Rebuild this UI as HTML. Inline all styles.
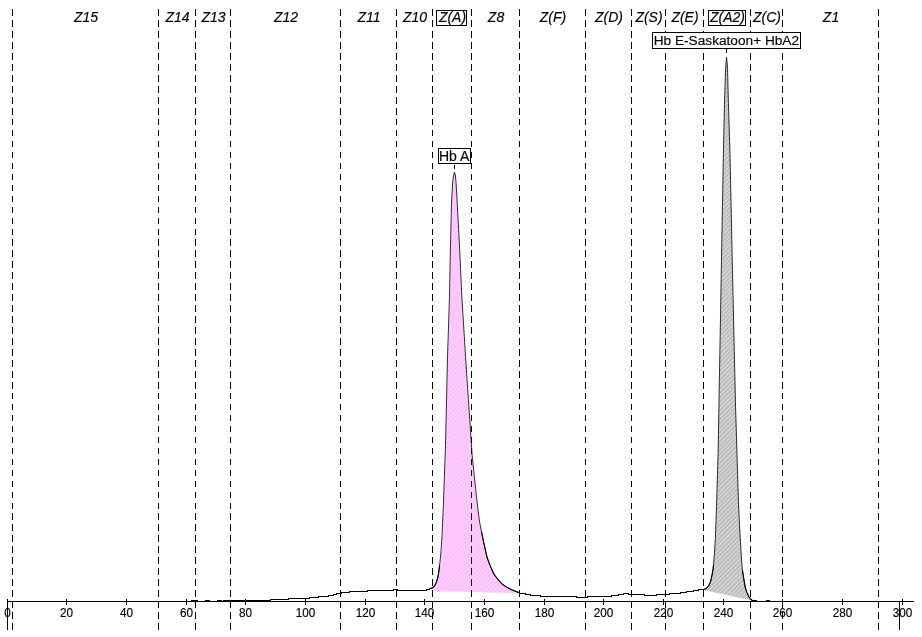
<!DOCTYPE html>
<html><head><meta charset="utf-8"><title>Electrophoresis</title>
<style>
html,body{margin:0;padding:0;background:#fff}
body{width:922px;height:637px;overflow:hidden}
svg{display:block}
text{font-family:"Liberation Sans",Arial,sans-serif;fill:#000;stroke:#000;stroke-width:.15px}
.z{font-style:italic;font-size:14px;text-anchor:middle}
.t{font-size:12.4px;text-anchor:middle}
.l{font-size:13.66px}
.c{shape-rendering:crispEdges}
</style></head><body>
<svg width="922" height="637" viewBox="0 0 922 637">
<rect width="922" height="637" fill="#fff"/>
<clipPath id="cp"><polygon points="431.5,588.5 433,587.6 434.9,585.25 436.3,582.4 437.5,578.7 438.4,574.4 439.1,569.7 439.6,565 440.5,557 441.2,548.6 441.8,540 442.5,525 443.4,505 445.5,445 447.5,357 449.4,300 450.4,250 451.5,203 452.8,180.7 453.7,175 454.5,172.3 455.3,175 455.9,180.7 456.9,196.4 457.5,209 459.5,246 461.8,296 464.6,341 465.6,358 470.8,435 472.1,455 476.3,495 478,510 479.6,522 481.5,531.8 483.5,541.5 485.5,550.5 487,557.3 489.7,564.6 492,570 494.4,574.9 497.8,579.3 502.2,584.15 506.6,587.1 511,589.5 515.4,591.2 519.5,592.8 519.5,593.2 431.5,590.9"/></clipPath>
<clipPath id="cg"><polygon points="703.5,589.5 705.1,589 706.7,588 708.6,586 710,583 711,580 712,575 713,570 713.5,565 714.3,555 715.3,540 716.5,507 718.2,450 719.1,395 720.5,317 722,230 723.5,147 724.6,100 725.5,70 726.5,57.3 727.5,67 728.3,100 729.9,150 731.5,225 733.5,317 735.5,405 738.45,502 739.5,525 740.4,540 741.2,555 742.4,570 743.7,578.3 745.25,587.7 746.85,592.4 749,597 750.6,599 752.3,600.5 751,600.3 703.5,589.9"/></clipPath>
<polygon points="431.5,588.5 433,587.6 434.9,585.25 436.3,582.4 437.5,578.7 438.4,574.4 439.1,569.7 439.6,565 440.5,557 441.2,548.6 441.8,540 442.5,525 443.4,505 445.5,445 447.5,357 449.4,300 450.4,250 451.5,203 452.8,180.7 453.7,175 454.5,172.3 455.3,175 455.9,180.7 456.9,196.4 457.5,209 459.5,246 461.8,296 464.6,341 465.6,358 470.8,435 472.1,455 476.3,495 478,510 479.6,522 481.5,531.8 483.5,541.5 485.5,550.5 487,557.3 489.7,564.6 492,570 494.4,574.9 497.8,579.3 502.2,584.15 506.6,587.1 511,589.5 515.4,591.2 519.5,592.8 519.5,593.2 431.5,590.9" fill="#ffbfff"/>
<path clip-path="url(#cp)" d="M430.0 172.7L431.7 171.0M430.0 177.1L436.1 171.0M430.0 181.5L440.5 171.0M430.0 185.8L444.8 171.0M430.0 190.2L449.2 171.0M430.0 194.6L453.6 171.0M430.0 199.0L458.0 171.0M430.0 203.4L462.4 171.0M430.0 207.8L466.8 171.0M430.0 212.1L471.1 171.0M430.0 216.5L475.5 171.0M430.0 220.9L479.9 171.0M430.0 225.3L484.3 171.0M430.0 229.7L488.7 171.0M430.0 234.0L493.0 171.0M430.0 238.4L497.4 171.0M430.0 242.8L501.8 171.0M430.0 247.2L506.2 171.0M430.0 251.6L510.6 171.0M430.0 256.0L515.0 171.0M430.0 260.3L519.3 171.0M430.0 264.7L521.0 173.7M430.0 269.1L521.0 178.1M430.0 273.5L521.0 182.5M430.0 277.9L521.0 186.9M430.0 282.3L521.0 191.3M430.0 286.6L521.0 195.6M430.0 291.0L521.0 200.0M430.0 295.4L521.0 204.4M430.0 299.8L521.0 208.8M430.0 304.2L521.0 213.2M430.0 308.6L521.0 217.6M430.0 312.9L521.0 221.9M430.0 317.3L521.0 226.3M430.0 321.7L521.0 230.7M430.0 326.1L521.0 235.1M430.0 330.5L521.0 239.5M430.0 334.9L521.0 243.9M430.0 339.2L521.0 248.2M430.0 343.6L521.0 252.6M430.0 348.0L521.0 257.0M430.0 352.4L521.0 261.4M430.0 356.8L521.0 265.8M430.0 361.2L521.0 270.2M430.0 365.5L521.0 274.5M430.0 369.9L521.0 278.9M430.0 374.3L521.0 283.3M430.0 378.7L521.0 287.7M430.0 383.1L521.0 292.1M430.0 387.5L521.0 296.5M430.0 391.8L521.0 300.8M430.0 396.2L521.0 305.2M430.0 400.6L521.0 309.6M430.0 405.0L521.0 314.0M430.0 409.4L521.0 318.4M430.0 413.8L521.0 322.8M430.0 418.1L521.0 327.1M430.0 422.5L521.0 331.5M430.0 426.9L521.0 335.9M430.0 431.3L521.0 340.3M430.0 435.7L521.0 344.7M430.0 440.0L521.0 349.0M430.0 444.4L521.0 353.4M430.0 448.8L521.0 357.8M430.0 453.2L521.0 362.2M430.0 457.6L521.0 366.6M430.0 462.0L521.0 371.0M430.0 466.3L521.0 375.3M430.0 470.7L521.0 379.7M430.0 475.1L521.0 384.1M430.0 479.5L521.0 388.5M430.0 483.9L521.0 392.9M430.0 488.3L521.0 397.3M430.0 492.6L521.0 401.6M430.0 497.0L521.0 406.0M430.0 501.4L521.0 410.4M430.0 505.8L521.0 414.8M430.0 510.2L521.0 419.2M430.0 514.6L521.0 423.6M430.0 518.9L521.0 427.9M430.0 523.3L521.0 432.3M430.0 527.7L521.0 436.7M430.0 532.1L521.0 441.1M430.0 536.5L521.0 445.5M430.0 540.9L521.0 449.9M430.0 545.2L521.0 454.2M430.0 549.6L521.0 458.6M430.0 554.0L521.0 463.0M430.0 558.4L521.0 467.4M430.0 562.8L521.0 471.8M430.0 567.2L521.0 476.2M430.0 571.5L521.0 480.5M430.0 575.9L521.0 484.9M430.0 580.3L521.0 489.3M430.0 584.7L521.0 493.7M430.0 589.1L521.0 498.1M430.0 593.5L521.0 502.5M433.8 594.0L521.0 506.8M438.2 594.0L521.0 511.2M442.6 594.0L521.0 515.6M447.0 594.0L521.0 520.0M451.4 594.0L521.0 524.4M455.8 594.0L521.0 528.8M460.1 594.0L521.0 533.1M464.5 594.0L521.0 537.5M468.9 594.0L521.0 541.9M473.3 594.0L521.0 546.3M477.7 594.0L521.0 550.7M482.0 594.0L521.0 555.0M486.4 594.0L521.0 559.4M490.8 594.0L521.0 563.8M495.2 594.0L521.0 568.2M499.6 594.0L521.0 572.6M504.0 594.0L521.0 577.0M508.3 594.0L521.0 581.3M512.7 594.0L521.0 585.7M517.1 594.0L521.0 590.1" stroke="#ffe2ff" stroke-width="1" fill="none"/>
<polygon points="703.5,589.5 705.1,589 706.7,588 708.6,586 710,583 711,580 712,575 713,570 713.5,565 714.3,555 715.3,540 716.5,507 718.2,450 719.1,395 720.5,317 722,230 723.5,147 724.6,100 725.5,70 726.5,57.3 727.5,67 728.3,100 729.9,150 731.5,225 733.5,317 735.5,405 738.45,502 739.5,525 740.4,540 741.2,555 742.4,570 743.7,578.3 745.25,587.7 746.85,592.4 749,597 750.6,599 752.3,600.5 751,600.3 703.5,589.9" fill="#c0c0c0"/>
<path clip-path="url(#cg)" d="M702.0 57.9L703.9 56.0M702.0 62.3L708.3 56.0M702.0 66.7L712.7 56.0M702.0 71.1L717.1 56.0M702.0 75.5L721.5 56.0M702.0 79.9L725.9 56.0M702.0 84.2L730.2 56.0M702.0 88.6L734.6 56.0M702.0 93.0L739.0 56.0M702.0 97.4L743.4 56.0M702.0 101.8L747.8 56.0M702.0 106.2L752.2 56.0M702.0 110.5L753.0 59.5M702.0 114.9L753.0 63.9M702.0 119.3L753.0 68.3M702.0 123.7L753.0 72.7M702.0 128.1L753.0 77.1M702.0 132.4L753.0 81.4M702.0 136.8L753.0 85.8M702.0 141.2L753.0 90.2M702.0 145.6L753.0 94.6M702.0 150.0L753.0 99.0M702.0 154.4L753.0 103.4M702.0 158.7L753.0 107.7M702.0 163.1L753.0 112.1M702.0 167.5L753.0 116.5M702.0 171.9L753.0 120.9M702.0 176.3L753.0 125.3M702.0 180.7L753.0 129.7M702.0 185.0L753.0 134.0M702.0 189.4L753.0 138.4M702.0 193.8L753.0 142.8M702.0 198.2L753.0 147.2M702.0 202.6L753.0 151.6M702.0 207.0L753.0 156.0M702.0 211.3L753.0 160.3M702.0 215.7L753.0 164.7M702.0 220.1L753.0 169.1M702.0 224.5L753.0 173.5M702.0 228.9L753.0 177.9M702.0 233.3L753.0 182.3M702.0 237.6L753.0 186.6M702.0 242.0L753.0 191.0M702.0 246.4L753.0 195.4M702.0 250.8L753.0 199.8M702.0 255.2L753.0 204.2M702.0 259.6L753.0 208.6M702.0 263.9L753.0 212.9M702.0 268.3L753.0 217.3M702.0 272.7L753.0 221.7M702.0 277.1L753.0 226.1M702.0 281.5L753.0 230.5M702.0 285.9L753.0 234.9M702.0 290.2L753.0 239.2M702.0 294.6L753.0 243.6M702.0 299.0L753.0 248.0M702.0 303.4L753.0 252.4M702.0 307.8L753.0 256.8M702.0 312.2L753.0 261.2M702.0 316.5L753.0 265.5M702.0 320.9L753.0 269.9M702.0 325.3L753.0 274.3M702.0 329.7L753.0 278.7M702.0 334.1L753.0 283.1M702.0 338.4L753.0 287.4M702.0 342.8L753.0 291.8M702.0 347.2L753.0 296.2M702.0 351.6L753.0 300.6M702.0 356.0L753.0 305.0M702.0 360.4L753.0 309.4M702.0 364.7L753.0 313.7M702.0 369.1L753.0 318.1M702.0 373.5L753.0 322.5M702.0 377.9L753.0 326.9M702.0 382.3L753.0 331.3M702.0 386.7L753.0 335.7M702.0 391.0L753.0 340.0M702.0 395.4L753.0 344.4M702.0 399.8L753.0 348.8M702.0 404.2L753.0 353.2M702.0 408.6L753.0 357.6M702.0 413.0L753.0 362.0M702.0 417.3L753.0 366.3M702.0 421.7L753.0 370.7M702.0 426.1L753.0 375.1M702.0 430.5L753.0 379.5M702.0 434.9L753.0 383.9M702.0 439.3L753.0 388.3M702.0 443.6L753.0 392.6M702.0 448.0L753.0 397.0M702.0 452.4L753.0 401.4M702.0 456.8L753.0 405.8M702.0 461.2L753.0 410.2M702.0 465.6L753.0 414.6M702.0 469.9L753.0 418.9M702.0 474.3L753.0 423.3M702.0 478.7L753.0 427.7M702.0 483.1L753.0 432.1M702.0 487.5L753.0 436.5M702.0 491.9L753.0 440.9M702.0 496.2L753.0 445.2M702.0 500.6L753.0 449.6M702.0 505.0L753.0 454.0M702.0 509.4L753.0 458.4M702.0 513.8L753.0 462.8M702.0 518.2L753.0 467.2M702.0 522.5L753.0 471.5M702.0 526.9L753.0 475.9M702.0 531.3L753.0 480.3M702.0 535.7L753.0 484.7M702.0 540.1L753.0 489.1M702.0 544.5L753.0 493.5M702.0 548.8L753.0 497.8M702.0 553.2L753.0 502.2M702.0 557.6L753.0 506.6M702.0 562.0L753.0 511.0M702.0 566.4L753.0 515.4M702.0 570.7L753.0 519.7M702.0 575.1L753.0 524.1M702.0 579.5L753.0 528.5M702.0 583.9L753.0 532.9M702.0 588.3L753.0 537.3M702.0 592.7L753.0 541.7M702.0 597.0L753.0 546.0M702.4 601.0L753.0 550.4M706.8 601.0L753.0 554.8M711.2 601.0L753.0 559.2M715.6 601.0L753.0 563.6M720.0 601.0L753.0 568.0M724.3 601.0L753.0 572.3M728.7 601.0L753.0 576.7M733.1 601.0L753.0 581.1M737.5 601.0L753.0 585.5M741.9 601.0L753.0 589.9M746.3 601.0L753.0 594.3M750.6 601.0L753.0 598.6" stroke="#e4e4e4" stroke-width="1" fill="none"/>
<path class="c" transform="translate(12 0)" d="M.5 9V16M.5 20V27M.5 31V38M.5 42V49M.5 53V60M.5 64V71M.5 75V82M.5 86V93M.5 97V104M.5 108V115M.5 119V125M.5 130V136M.5 141V147M.5 152V158M.5 163V169M.5 174V180M.5 185V191M.5 196V202M.5 207V213M.5 218V224M.5 229V235M.5 239V246M.5 250V257M.5 261V268M.5 272V279M.5 283V290M.5 294V301M.5 305V312M.5 316V323M.5 327V334M.5 338V345M.5 349V356M.5 360V367M.5 371V378M.5 382V389M.5 393V399M.5 404V410M.5 415V421M.5 426V432M.5 437V443M.5 448V454M.5 459V465M.5 470V476M.5 481V487M.5 492V498M.5 503V509M.5 513V520M.5 524V531M.5 535V542M.5 546V553M.5 557V564M.5 568V575M.5 579V586M.5 590V597M.5 601V608M.5 612V619M.5 623V630" stroke="#000" stroke-width="1" fill="none"/>
<path class="c" transform="translate(158 0)" d="M.5 9V16M.5 20V27M.5 31V38M.5 42V49M.5 53V60M.5 64V71M.5 75V82M.5 86V93M.5 97V104M.5 108V115M.5 119V125M.5 130V136M.5 141V147M.5 152V158M.5 163V169M.5 174V180M.5 185V191M.5 196V202M.5 207V213M.5 218V224M.5 229V235M.5 239V246M.5 250V257M.5 261V268M.5 272V279M.5 283V290M.5 294V301M.5 305V312M.5 316V323M.5 327V334M.5 338V345M.5 349V356M.5 360V367M.5 371V378M.5 382V389M.5 393V399M.5 404V410M.5 415V421M.5 426V432M.5 437V443M.5 448V454M.5 459V465M.5 470V476M.5 481V487M.5 492V498M.5 503V509M.5 513V520M.5 524V531M.5 535V542M.5 546V553M.5 557V564M.5 568V575M.5 579V586M.5 590V597M.5 601V608M.5 612V619M.5 623V630" stroke="#000" stroke-width="1" fill="none"/>
<path class="c" transform="translate(195 0)" d="M.5 9V16M.5 20V27M.5 31V38M.5 42V49M.5 53V60M.5 64V71M.5 75V82M.5 86V93M.5 97V104M.5 108V115M.5 119V125M.5 130V136M.5 141V147M.5 152V158M.5 163V169M.5 174V180M.5 185V191M.5 196V202M.5 207V213M.5 218V224M.5 229V235M.5 239V246M.5 250V257M.5 261V268M.5 272V279M.5 283V290M.5 294V301M.5 305V312M.5 316V323M.5 327V334M.5 338V345M.5 349V356M.5 360V367M.5 371V378M.5 382V389M.5 393V399M.5 404V410M.5 415V421M.5 426V432M.5 437V443M.5 448V454M.5 459V465M.5 470V476M.5 481V487M.5 492V498M.5 503V509M.5 513V520M.5 524V531M.5 535V542M.5 546V553M.5 557V564M.5 568V575M.5 579V586M.5 590V597M.5 601V608M.5 612V619M.5 623V630" stroke="#000" stroke-width="1" fill="none"/>
<path class="c" transform="translate(230 0)" d="M.5 9V16M.5 20V27M.5 31V38M.5 42V49M.5 53V60M.5 64V71M.5 75V82M.5 86V93M.5 97V104M.5 108V115M.5 119V125M.5 130V136M.5 141V147M.5 152V158M.5 163V169M.5 174V180M.5 185V191M.5 196V202M.5 207V213M.5 218V224M.5 229V235M.5 239V246M.5 250V257M.5 261V268M.5 272V279M.5 283V290M.5 294V301M.5 305V312M.5 316V323M.5 327V334M.5 338V345M.5 349V356M.5 360V367M.5 371V378M.5 382V389M.5 393V399M.5 404V410M.5 415V421M.5 426V432M.5 437V443M.5 448V454M.5 459V465M.5 470V476M.5 481V487M.5 492V498M.5 503V509M.5 513V520M.5 524V531M.5 535V542M.5 546V553M.5 557V564M.5 568V575M.5 579V586M.5 590V597M.5 601V608M.5 612V619M.5 623V630" stroke="#000" stroke-width="1" fill="none"/>
<path class="c" transform="translate(340 0)" d="M.5 9V16M.5 20V27M.5 31V38M.5 42V49M.5 53V60M.5 64V71M.5 75V82M.5 86V93M.5 97V104M.5 108V115M.5 119V125M.5 130V136M.5 141V147M.5 152V158M.5 163V169M.5 174V180M.5 185V191M.5 196V202M.5 207V213M.5 218V224M.5 229V235M.5 239V246M.5 250V257M.5 261V268M.5 272V279M.5 283V290M.5 294V301M.5 305V312M.5 316V323M.5 327V334M.5 338V345M.5 349V356M.5 360V367M.5 371V378M.5 382V389M.5 393V399M.5 404V410M.5 415V421M.5 426V432M.5 437V443M.5 448V454M.5 459V465M.5 470V476M.5 481V487M.5 492V498M.5 503V509M.5 513V520M.5 524V531M.5 535V542M.5 546V553M.5 557V564M.5 568V575M.5 579V586M.5 590V597M.5 601V608M.5 612V619M.5 623V630" stroke="#000" stroke-width="1" fill="none"/>
<path class="c" transform="translate(396 0)" d="M.5 9V16M.5 20V27M.5 31V38M.5 42V49M.5 53V60M.5 64V71M.5 75V82M.5 86V93M.5 97V104M.5 108V115M.5 119V125M.5 130V136M.5 141V147M.5 152V158M.5 163V169M.5 174V180M.5 185V191M.5 196V202M.5 207V213M.5 218V224M.5 229V235M.5 239V246M.5 250V257M.5 261V268M.5 272V279M.5 283V290M.5 294V301M.5 305V312M.5 316V323M.5 327V334M.5 338V345M.5 349V356M.5 360V367M.5 371V378M.5 382V389M.5 393V399M.5 404V410M.5 415V421M.5 426V432M.5 437V443M.5 448V454M.5 459V465M.5 470V476M.5 481V487M.5 492V498M.5 503V509M.5 513V520M.5 524V531M.5 535V542M.5 546V553M.5 557V564M.5 568V575M.5 579V586M.5 590V597M.5 601V608M.5 612V619M.5 623V630" stroke="#000" stroke-width="1" fill="none"/>
<path class="c" transform="translate(432 0)" d="M.5 9V16M.5 20V27M.5 31V38M.5 42V49M.5 53V60M.5 64V71M.5 75V82M.5 86V93M.5 97V104M.5 108V115M.5 119V125M.5 130V136M.5 141V147M.5 152V158M.5 163V169M.5 174V180M.5 185V191M.5 196V202M.5 207V213M.5 218V224M.5 229V235M.5 239V246M.5 250V257M.5 261V268M.5 272V279M.5 283V290M.5 294V301M.5 305V312M.5 316V323M.5 327V334M.5 338V345M.5 349V356M.5 360V367M.5 371V378M.5 382V389M.5 393V399M.5 404V410M.5 415V421M.5 426V432M.5 437V443M.5 448V454M.5 459V465M.5 470V476M.5 481V487M.5 492V498M.5 503V509M.5 513V520M.5 524V531M.5 535V542M.5 546V553M.5 557V564M.5 568V575M.5 579V586M.5 590V597M.5 601V608M.5 612V619M.5 623V630" stroke="#000" stroke-width="1" fill="none"/>
<path class="c" transform="translate(471 0)" d="M.5 9V16M.5 20V27M.5 31V38M.5 42V49M.5 53V60M.5 64V71M.5 75V82M.5 86V93M.5 97V104M.5 108V115M.5 119V125M.5 130V136M.5 141V147M.5 152V158M.5 163V169M.5 174V180M.5 185V191M.5 196V202M.5 207V213M.5 218V224M.5 229V235M.5 239V246M.5 250V257M.5 261V268M.5 272V279M.5 283V290M.5 294V301M.5 305V312M.5 316V323M.5 327V334M.5 338V345M.5 349V356M.5 360V367M.5 371V378M.5 382V389M.5 393V399M.5 404V410M.5 415V421M.5 426V432M.5 437V443M.5 448V454M.5 459V465M.5 470V476M.5 481V487M.5 492V498M.5 503V509M.5 513V520M.5 524V531M.5 535V542M.5 546V553M.5 557V564M.5 568V575M.5 579V586M.5 590V597M.5 601V608M.5 612V619M.5 623V630" stroke="#000" stroke-width="1" fill="none"/>
<path class="c" transform="translate(519 0)" d="M.5 9V16M.5 20V27M.5 31V38M.5 42V49M.5 53V60M.5 64V71M.5 75V82M.5 86V93M.5 97V104M.5 108V115M.5 119V125M.5 130V136M.5 141V147M.5 152V158M.5 163V169M.5 174V180M.5 185V191M.5 196V202M.5 207V213M.5 218V224M.5 229V235M.5 239V246M.5 250V257M.5 261V268M.5 272V279M.5 283V290M.5 294V301M.5 305V312M.5 316V323M.5 327V334M.5 338V345M.5 349V356M.5 360V367M.5 371V378M.5 382V389M.5 393V399M.5 404V410M.5 415V421M.5 426V432M.5 437V443M.5 448V454M.5 459V465M.5 470V476M.5 481V487M.5 492V498M.5 503V509M.5 513V520M.5 524V531M.5 535V542M.5 546V553M.5 557V564M.5 568V575M.5 579V586M.5 590V597M.5 601V608M.5 612V619M.5 623V630" stroke="#000" stroke-width="1" fill="none"/>
<path class="c" transform="translate(585 0)" d="M.5 9V16M.5 20V27M.5 31V38M.5 42V49M.5 53V60M.5 64V71M.5 75V82M.5 86V93M.5 97V104M.5 108V115M.5 119V125M.5 130V136M.5 141V147M.5 152V158M.5 163V169M.5 174V180M.5 185V191M.5 196V202M.5 207V213M.5 218V224M.5 229V235M.5 239V246M.5 250V257M.5 261V268M.5 272V279M.5 283V290M.5 294V301M.5 305V312M.5 316V323M.5 327V334M.5 338V345M.5 349V356M.5 360V367M.5 371V378M.5 382V389M.5 393V399M.5 404V410M.5 415V421M.5 426V432M.5 437V443M.5 448V454M.5 459V465M.5 470V476M.5 481V487M.5 492V498M.5 503V509M.5 513V520M.5 524V531M.5 535V542M.5 546V553M.5 557V564M.5 568V575M.5 579V586M.5 590V597M.5 601V608M.5 612V619M.5 623V630" stroke="#000" stroke-width="1" fill="none"/>
<path class="c" transform="translate(631 0)" d="M.5 9V16M.5 20V27M.5 31V38M.5 42V49M.5 53V60M.5 64V71M.5 75V82M.5 86V93M.5 97V104M.5 108V115M.5 119V125M.5 130V136M.5 141V147M.5 152V158M.5 163V169M.5 174V180M.5 185V191M.5 196V202M.5 207V213M.5 218V224M.5 229V235M.5 239V246M.5 250V257M.5 261V268M.5 272V279M.5 283V290M.5 294V301M.5 305V312M.5 316V323M.5 327V334M.5 338V345M.5 349V356M.5 360V367M.5 371V378M.5 382V389M.5 393V399M.5 404V410M.5 415V421M.5 426V432M.5 437V443M.5 448V454M.5 459V465M.5 470V476M.5 481V487M.5 492V498M.5 503V509M.5 513V520M.5 524V531M.5 535V542M.5 546V553M.5 557V564M.5 568V575M.5 579V586M.5 590V597M.5 601V608M.5 612V619M.5 623V630" stroke="#000" stroke-width="1" fill="none"/>
<path class="c" transform="translate(665 0)" d="M.5 9V16M.5 20V27M.5 31V38M.5 42V49M.5 53V60M.5 64V71M.5 75V82M.5 86V93M.5 97V104M.5 108V115M.5 119V125M.5 130V136M.5 141V147M.5 152V158M.5 163V169M.5 174V180M.5 185V191M.5 196V202M.5 207V213M.5 218V224M.5 229V235M.5 239V246M.5 250V257M.5 261V268M.5 272V279M.5 283V290M.5 294V301M.5 305V312M.5 316V323M.5 327V334M.5 338V345M.5 349V356M.5 360V367M.5 371V378M.5 382V389M.5 393V399M.5 404V410M.5 415V421M.5 426V432M.5 437V443M.5 448V454M.5 459V465M.5 470V476M.5 481V487M.5 492V498M.5 503V509M.5 513V520M.5 524V531M.5 535V542M.5 546V553M.5 557V564M.5 568V575M.5 579V586M.5 590V597M.5 601V608M.5 612V619M.5 623V630" stroke="#000" stroke-width="1" fill="none"/>
<path class="c" transform="translate(703 0)" d="M.5 9V16M.5 20V27M.5 31V38M.5 42V49M.5 53V60M.5 64V71M.5 75V82M.5 86V93M.5 97V104M.5 108V115M.5 119V125M.5 130V136M.5 141V147M.5 152V158M.5 163V169M.5 174V180M.5 185V191M.5 196V202M.5 207V213M.5 218V224M.5 229V235M.5 239V246M.5 250V257M.5 261V268M.5 272V279M.5 283V290M.5 294V301M.5 305V312M.5 316V323M.5 327V334M.5 338V345M.5 349V356M.5 360V367M.5 371V378M.5 382V389M.5 393V399M.5 404V410M.5 415V421M.5 426V432M.5 437V443M.5 448V454M.5 459V465M.5 470V476M.5 481V487M.5 492V498M.5 503V509M.5 513V520M.5 524V531M.5 535V542M.5 546V553M.5 557V564M.5 568V575M.5 579V586M.5 590V597M.5 601V608M.5 612V619M.5 623V630" stroke="#000" stroke-width="1" fill="none"/>
<path class="c" transform="translate(750 0)" d="M.5 9V16M.5 20V27M.5 31V38M.5 42V49M.5 53V60M.5 64V71M.5 75V82M.5 86V93M.5 97V104M.5 108V115M.5 119V125M.5 130V136M.5 141V147M.5 152V158M.5 163V169M.5 174V180M.5 185V191M.5 196V202M.5 207V213M.5 218V224M.5 229V235M.5 239V246M.5 250V257M.5 261V268M.5 272V279M.5 283V290M.5 294V301M.5 305V312M.5 316V323M.5 327V334M.5 338V345M.5 349V356M.5 360V367M.5 371V378M.5 382V389M.5 393V399M.5 404V410M.5 415V421M.5 426V432M.5 437V443M.5 448V454M.5 459V465M.5 470V476M.5 481V487M.5 492V498M.5 503V509M.5 513V520M.5 524V531M.5 535V542M.5 546V553M.5 557V564M.5 568V575M.5 579V586M.5 590V597M.5 601V608M.5 612V619M.5 623V630" stroke="#000" stroke-width="1" fill="none"/>
<path class="c" transform="translate(782 0)" d="M.5 9V16M.5 20V27M.5 31V38M.5 42V49M.5 53V60M.5 64V71M.5 75V82M.5 86V93M.5 97V104M.5 108V115M.5 119V125M.5 130V136M.5 141V147M.5 152V158M.5 163V169M.5 174V180M.5 185V191M.5 196V202M.5 207V213M.5 218V224M.5 229V235M.5 239V246M.5 250V257M.5 261V268M.5 272V279M.5 283V290M.5 294V301M.5 305V312M.5 316V323M.5 327V334M.5 338V345M.5 349V356M.5 360V367M.5 371V378M.5 382V389M.5 393V399M.5 404V410M.5 415V421M.5 426V432M.5 437V443M.5 448V454M.5 459V465M.5 470V476M.5 481V487M.5 492V498M.5 503V509M.5 513V520M.5 524V531M.5 535V542M.5 546V553M.5 557V564M.5 568V575M.5 579V586M.5 590V597M.5 601V608M.5 612V619M.5 623V630" stroke="#000" stroke-width="1" fill="none"/>
<path class="c" transform="translate(878 0)" d="M.5 9V16M.5 20V27M.5 31V38M.5 42V49M.5 53V60M.5 64V71M.5 75V82M.5 86V93M.5 97V104M.5 108V115M.5 119V125M.5 130V136M.5 141V147M.5 152V158M.5 163V169M.5 174V180M.5 185V191M.5 196V202M.5 207V213M.5 218V224M.5 229V235M.5 239V246M.5 250V257M.5 261V268M.5 272V279M.5 283V290M.5 294V301M.5 305V312M.5 316V323M.5 327V334M.5 338V345M.5 349V356M.5 360V367M.5 371V378M.5 382V389M.5 393V399M.5 404V410M.5 415V421M.5 426V432M.5 437V443M.5 448V454M.5 459V465M.5 470V476M.5 481V487M.5 492V498M.5 503V509M.5 513V520M.5 524V531M.5 535V542M.5 546V553M.5 557V564M.5 568V575M.5 579V586M.5 590V597M.5 601V608M.5 612V619M.5 623V630" stroke="#000" stroke-width="1" fill="none"/>

<path class="c" d="M7 601.5H914" stroke="#000" fill="none"/>
<path class="c" d="M7.5 599V605M66.5 599V605M126.5 599V605M186.5 599V605M245.5 599V605M305.5 599V605M365.5 599V605M424.5 599V605M484.5 599V605M544.5 599V605M603.5 599V605M663.5 599V605M723.5 599V605M782.5 599V605M842.5 599V605M902.5 599V605M7.5 601V630M899.5 601V630" stroke="#000" fill="none"/>
<path class="c" d="M191 600.5H198M197 601.5H206M205 600.5H210M209 601.5H218M217 600.5H222M221 601.5H224M223 600.5H271M270 599.5H289M288 598.5H310M309 597.5H319M318 596.5H329M328 595.5H334M333 594.5H337M336 593.5H342M341 592.5H350M349 591.5H368M367 590.5H394M393 589.5H398M397 590.5H427M426 589.5H430M517 592.5H520M519 593.5H526M525 594.5H531M530 595.5H541M540 596.5H577M576 597.5H588M587 596.5H612M611 595.5H619M618 594.5H624M623 593.5H629M628 594.5H645M644 595.5H657M656 594.5H670M669 593.5H681M680 592.5H687M686 591.5H694M693 590.5H699M698 589.5H704M752 600.5H757M766 600.5H770" stroke="#000" fill="none"/>
<polyline points="429.5,588.5 431.1,588.4 433,587.6 434.9,585.25 436.3,582.4 437.5,578.7 438.4,574.4 439.1,569.7 439.6,565 440.5,557 441.2,548.6 441.8,540 442.5,525 443.4,505 445.5,445 447.5,357 449.4,300 450.4,250 451.5,203 452.8,180.7 453.7,175 454.5,172.3 455.3,175 455.9,180.7 456.9,196.4 457.5,209 459.5,246 461.8,296 464.6,341 465.6,358 470.8,435 472.1,455 476.3,495 478,510 479.6,522 481.5,531.8 483.5,541.5 485.5,550.5 487,557.3 489.7,564.6 492,570 494.4,574.9 497.8,579.3 502.2,584.15 506.6,587.1 511,589.5 515.4,591.2 519.5,592.8" stroke="#000" stroke-width="0.8" fill="none" stroke-linejoin="round"/>
<polyline points="703.5,589.5 705.1,589 706.7,588 708.6,586 710,583 711,580 712,575 713,570 713.5,565 714.3,555 715.3,540 716.5,507 718.2,450 719.1,395 720.5,317 722,230 723.5,147 724.6,100 725.5,70 726.5,57.3 727.5,67 728.3,100 729.9,150 731.5,225 733.5,317 735.5,405 738.45,502 739.5,525 740.4,540 741.2,555 742.4,570 743.7,578.3 745.25,587.7 746.85,592.4 749,597 750.6,599 752.3,600.5" stroke="#000" stroke-width="0.8" fill="none" stroke-linejoin="round"/>
<polyline points="429.5,588.5 431.1,588.4 433,587.6 434.9,585.25 436.3,582.4 437.5,578.7 438.4,574.4 439.1,569.7 439.6,565" stroke="#000" stroke-width="1.05" fill="none" stroke-linejoin="round"/>
<polyline points="481.5,531.8 483.5,541.5 485.5,550.5 487,557.3 489.7,564.6 492,570 494.4,574.9 497.8,579.3 502.2,584.15 506.6,587.1 511,589.5 515.4,591.2 519.5,592.8" stroke="#000" stroke-width="1.05" fill="none" stroke-linejoin="round"/>
<polyline points="703.5,589.5 705.1,589 706.7,588 708.6,586 710,583 711,580 712,575 713,570 713.5,565" stroke="#000" stroke-width="1.05" fill="none" stroke-linejoin="round"/>
<polyline points="742.4,570 743.7,578.3 745.25,587.7 746.85,592.4 749,597 750.6,599 752.3,600.5" stroke="#000" stroke-width="1.05" fill="none" stroke-linejoin="round"/>
<path class="c" d="M454.5 165V169M726.5 49V53" stroke="#000" fill="none"/>
<rect class="c" x="436.5" y="10.5" width="30" height="15" fill="#fff" stroke="#000"/>
<rect class="c" x="708.5" y="10.5" width="37" height="15" fill="#fff" stroke="#000"/>
<text class="z" x="86" y="22">Z15</text><text class="z" x="177.5" y="22">Z14</text><text class="z" x="213.5" y="22">Z13</text><text class="z" x="286" y="22">Z12</text><text class="z" x="369" y="22">Z11</text><text class="z" x="415" y="22">Z10</text><text class="z" x="452.5" y="22">Z(A)</text><text class="z" x="496" y="22">Z8</text><text class="z" x="553" y="22">Z(F)</text><text class="z" x="609" y="22">Z(D)</text><text class="z" x="649" y="22">Z(S)</text><text class="z" x="685" y="22">Z(E)</text><text class="z" x="727.5" y="22">Z(A2)</text><text class="z" x="767" y="22">Z(C)</text><text class="z" x="831" y="22">Z1</text>
<rect class="c" x="438.5" y="148.5" width="32" height="15" fill="#fff" stroke="#000"/>
<text class="l" style="font-size:14px" x="439" y="161">Hb A</text>
<rect class="c" x="652.5" y="32.5" width="148" height="16" fill="#fff" stroke="#000"/>
<text class="l" x="653.7" y="45">Hb E-Saskatoon+ HbA2</text>
<text class="t" transform="translate(7.6 617) scale(.95 1)">0</text><text class="t" transform="translate(66.6 617) scale(.95 1)">20</text><text class="t" transform="translate(126.6 617) scale(.95 1)">40</text><text class="t" transform="translate(186.6 617) scale(.95 1)">60</text><text class="t" transform="translate(245.6 617) scale(.95 1)">80</text><text class="t" transform="translate(305.6 617) scale(.95 1)">100</text><text class="t" transform="translate(365.6 617) scale(.95 1)">120</text><text class="t" transform="translate(424.6 617) scale(.95 1)">140</text><text class="t" transform="translate(484.6 617) scale(.95 1)">160</text><text class="t" transform="translate(544.6 617) scale(.95 1)">180</text><text class="t" transform="translate(603.6 617) scale(.95 1)">200</text><text class="t" transform="translate(663.6 617) scale(.95 1)">220</text><text class="t" transform="translate(723.6 617) scale(.95 1)">240</text><text class="t" transform="translate(782.6 617) scale(.95 1)">260</text><text class="t" transform="translate(842.6 617) scale(.95 1)">280</text><text class="t" transform="translate(902.6 617) scale(.95 1)">300</text>
</svg>
</body></html>
